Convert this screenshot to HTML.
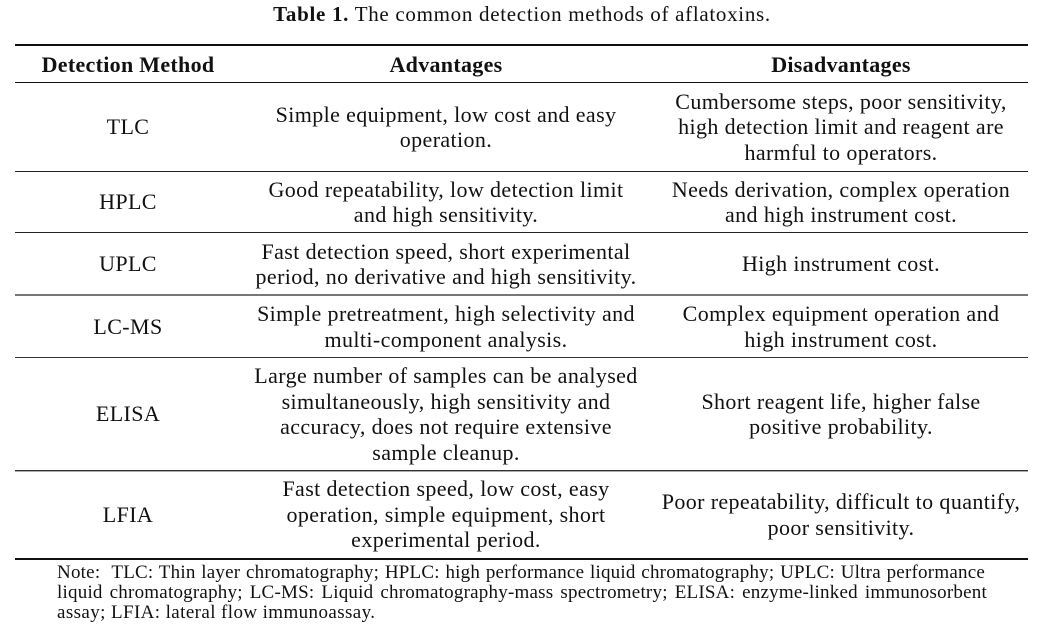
<!DOCTYPE html>
<html>
<head>
<meta charset="utf-8">
<style>
  html, body { margin:0; padding:0; background:#fff; }
  body { width:1044px; height:636px; position:relative; overflow:hidden;
         font-family:"Liberation Serif", serif; color:#111; }
  .title { position:absolute; left:0; width:1044px; top:4px; text-align:center;
           font-size:21px; line-height:21px; letter-spacing:0.7px; white-space:nowrap; }
  .rule { position:absolute; left:15px; width:1013px; }
  .cell { position:absolute; display:flex; align-items:center; justify-content:center;
          text-align:center; font-size:22px; line-height:25.5px; letter-spacing:0.38px;
          white-space:nowrap; }
  .c1 { left:15px; width:226px; }
  .c2 { left:242px; width:408px; }
  .c3 { left:654px; width:374px; }
  .hd { font-weight:bold; letter-spacing:0.3px; }
  .note { position:absolute; left:57px; width:931px; font-size:19px; line-height:20px;
          letter-spacing:0.22px; white-space:nowrap; }
  .j { text-align:justify; text-align-last:justify; }
</style>
</head>
<body>
<div class="title"><b>Table 1.</b> The common detection methods of aflatoxins.</div>

<!-- rules -->
<div class="rule" style="top:44px;height:2px;background:#111;"></div>
<div class="rule" style="top:82px;height:1px;background:#111;"></div>
<div class="rule" style="top:171px;height:1px;background:#222;"></div>
<div class="rule" style="top:232px;height:1px;background:#222;"></div>
<div class="rule" style="top:294px;height:2px;background:#777;"></div>
<div class="rule" style="top:357px;height:1px;background:#333;"></div>
<div class="rule" style="top:470px;height:1px;background:#333;"></div>
<div class="rule" style="top:471px;height:1px;background:#aaa;"></div>
<div class="rule" style="top:558px;height:2px;background:#111;"></div>

<!-- header -->
<div class="cell c1 hd" style="top:46px;height:37px;">Detection Method</div>
<div class="cell c2 hd" style="top:46px;height:37px;">Advantages</div>
<div class="cell c3 hd" style="top:46px;height:37px;">Disadvantages</div>

<!-- TLC -->
<div class="cell c1" style="top:83px;height:88px;">TLC</div>
<div class="cell c2" style="top:83px;height:88px;">Simple equipment, low cost and easy<br>operation.</div>
<div class="cell c3" style="top:83px;height:88px;">Cumbersome steps, poor sensitivity,<br>high detection limit and reagent are<br>harmful to operators.</div>

<!-- HPLC -->
<div class="cell c1" style="top:172px;height:60px;">HPLC</div>
<div class="cell c2" style="top:172px;height:60px;">Good repeatability, low detection limit<br>and high sensitivity.</div>
<div class="cell c3" style="top:172px;height:60px;">Needs derivation, complex operation<br>and high instrument cost.</div>

<!-- UPLC -->
<div class="cell c1" style="top:233px;height:62px;">UPLC</div>
<div class="cell c2" style="top:233px;height:62px;">Fast detection speed, short experimental<br>period, no derivative and high sensitivity.</div>
<div class="cell c3" style="top:233px;height:62px;">High instrument cost.</div>

<!-- LC-MS -->
<div class="cell c1" style="top:296px;height:61px;">LC-MS</div>
<div class="cell c2" style="top:296px;height:61px;">Simple pretreatment, high selectivity and<br>multi-component analysis.</div>
<div class="cell c3" style="top:296px;height:61px;">Complex equipment operation and<br>high instrument cost.</div>

<!-- ELISA -->
<div class="cell c1" style="top:358px;height:112px;">ELISA</div>
<div class="cell c2" style="top:358px;height:112px;">Large number of samples can be analysed<br>simultaneously, high sensitivity and<br>accuracy, does not require extensive<br>sample cleanup.</div>
<div class="cell c3" style="top:358px;height:112px;">Short reagent life, higher false<br>positive probability.</div>

<!-- LFIA -->
<div class="cell c1" style="top:471px;height:87px;">LFIA</div>
<div class="cell c2" style="top:471px;height:87px;">Fast detection speed, low cost, easy<br>operation, simple equipment, short<br>experimental period.</div>
<div class="cell c3" style="top:471px;height:87px;">Poor repeatability, difficult to quantify,<br>poor sensitivity.</div>

<!-- note -->
<div class="note j" style="top:563px;width:928px;">Note:&nbsp; TLC: Thin layer chromatography; HPLC: high performance liquid chromatography; UPLC: Ultra performance</div>
<div class="note j" style="top:583px;width:930px;">liquid chromatography; LC-MS: Liquid chromatography-mass spectrometry; ELISA: enzyme-linked immunosorbent</div>
<div class="note" style="top:603px;letter-spacing:0.4px;">assay; LFIA: lateral flow immunoassay.</div>
</body>
</html>
